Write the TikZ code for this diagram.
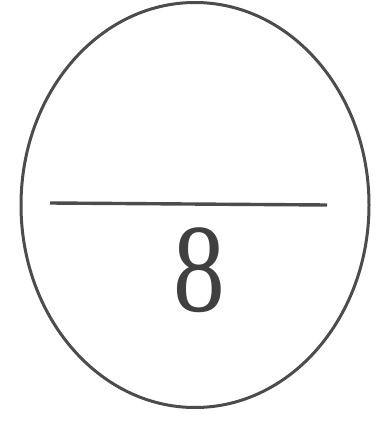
\documentclass[tikz,border=0pt]{standalone}
\usepackage{fontspec}
\setmainfont{Liberation Serif}
\usetikzlibrary{shapes.geometric}
\tikzset{
  outline/.style={draw=black!70, line width=3pt},
  bar/.style={draw=black!70, line width=3.4pt},
  digit/.style={inner sep=0pt, text=black!75, xscale=0.82, font=\fontsize{126}{126}\selectfont}
}
\begin{document}
\begin{tikzpicture}[x=1pt,y=-1pt]
\useasboundingbox (0,0) rectangle (378,425);
\node[outline, ellipse, minimum width=348pt, minimum height=405pt, inner sep=0pt] (oval) at (195,205) {};
\coordinate (l) at (50,203);
\coordinate (r) at (327,205);
\draw[bar] (l) -- (r);
\node[digit] (eight) at (199,270.5) {8};
\end{tikzpicture}
\end{document}
